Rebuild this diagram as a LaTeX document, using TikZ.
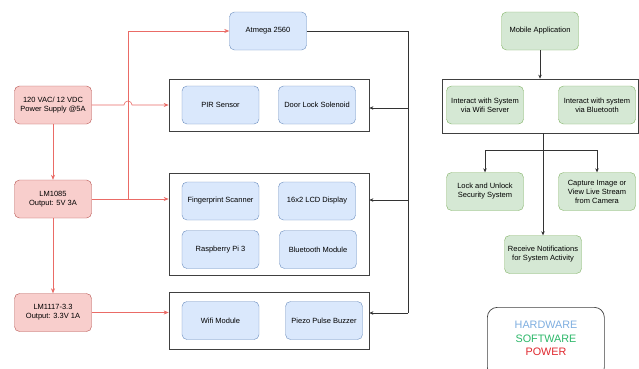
\documentclass[tikz,border=0pt]{standalone}
\usepackage{fontspec}
\setmainfont{Liberation Sans}
\usetikzlibrary{arrows.meta}

\definecolor{hwfill}{HTML}{DAE8FC}
\definecolor{hwline}{HTML}{6C8EBF}
\definecolor{swfill}{HTML}{D5E8D4}
\definecolor{swline}{HTML}{82B366}
\definecolor{pwfill}{HTML}{F8CECC}
\definecolor{pwline}{HTML}{B85450}
\definecolor{pwwire}{HTML}{EA6B66}
\definecolor{hwtext}{HTML}{7EAEE0}
\definecolor{swtext}{HTML}{2DB86A}
\definecolor{pwtext}{HTML}{E0282E}

\tikzset{
  block/.style={rounded corners=5pt, minimum width=77pt, minimum height=38pt,
    align=center, font=\fontsize{7.5}{9}\selectfont},
  hw/.style={block, draw=hwline, fill=hwfill},
  sw/.style={block, draw=swline, fill=swfill},
  pw/.style={block, draw=pwline, fill=pwfill},
  group/.style={draw=black!75, line width=0.7pt, inner sep=0pt},
  wire/.style={draw=pwwire, line width=0.6pt},
  pwr/.style={wire, -{Stealth[length=5pt,width=4pt]}},
  link/.style={draw=black!80, line width=0.6pt},
  ctl/.style={link, -{Stealth[length=4pt,width=3.5pt]}}
}

\begin{document}
\begin{tikzpicture}[x=1pt,y=-1pt]
	\clip (0,0) rectangle (639,368);
	\fill[white] (0,0) rectangle (639,368);

	% Group frames first
	\node[group, minimum width=200pt, minimum height=52pt] (g1) at (269,105) {};
	\node[group, minimum width=200pt, minimum height=102pt] (g2) at (269,224) {};
	\node[group, minimum width=200pt, minimum height=57pt] (g3) at (269,320.5) {};
	\node[group, minimum width=196pt, minimum height=54pt] (swg) at (540,106) {};

	% Power side
	\node[pw] (ps) at (53,105) {120 VAC/ 12 VDC\\Power Supply @5A};
	\node[pw] (lm1085) at (53,199) {LM1085\\Output: 5V 3A};
	\node[pw] (lm1117) at (53,312.5) {LM1117-3.3\\Output: 3.3V 1A};

	% Hardware blocks
	\node[hw] (atmega) at (268,31) {Atmega 2560};
	\node[hw] (pir) at (220.5,105) {PIR Sensor};
	\node[hw] (door) at (317,105) {Door Lock Solenoid};
	\node[hw] (finger) at (220.5,201) {Fingerprint Scanner};
	\node[hw] (lcd) at (317,201) {16x2 LCD Display};
	\node[hw] (rpi) at (220.5,249.5) {Raspberry Pi 3};
	\node[hw] (bt) at (318,249.5) {Bluetooth Module};
	\node[hw] (wifi) at (220.5,320.5) {Wifi Module};
	\node[hw] (piezo) at (324,320.5) {Piezo Pulse Buzzer};

	% Software blocks
	\node[sw] (app) at (540,31) {Mobile Application};
	\node[sw] (iwifi) at (485,105) {Interact with System\\via Wifi Server};
	\node[sw] (ibt) at (597,105) {Interact with system\\via Bluetooth};
	\node[sw] (lock) at (485,191.5) {Lock and Unlock\\Security System};
	\node[sw] (cam) at (597,191.5) {Capture Image or\\View Live Stream\\from Camera};
	\node[sw] (notif) at (543,254.5) {Receive Notifications\\for System Activity};

	% Power wiring
	\coordinate (hop) at (128,105);
	\coordinate (split) at (128,199);
	\draw[pwr] (ps) -- (lm1085);
	\draw[pwr] (lm1085) -- (lm1117);
	\draw[pwr] (ps.east) -- ([xshift=-4pt]hop) arc[start angle=180, end angle=0, radius=4pt] -- (g1.west);
	\draw[pwr] (lm1085.east) -- (lm1085.east -| g2.west);
	\draw[pwr] (split) |- (atmega.west);
	\draw[pwr] (lm1117.east) -- (lm1117.east -| g3.west);

	% Control bus from the Atmega
	\coordinate (b1) at (408,108);
	\coordinate (b2) at (408,200);
	\coordinate (b3) at (408,313);
	\draw[link] (atmega.east) -| (b3);
	\foreach \b/\g in {b1/g1, b2/g2, b3/g3}
		\draw[ctl] (\b) -- (\b -| \g.east);

	% App flow
	\coordinate (fork) at (543,150);
	\draw[ctl] (app.south) -- (app.south |- swg.north);
	\draw[ctl] (swg.south -| notif) -- (notif.north);
	\draw[ctl] (fork) -| (lock.north);
	\draw[ctl] (fork) -| (cam.north);

	% Legend
	\node[draw=black!75, line width=0.7pt, rounded corners=10pt,
		minimum width=117pt, minimum height=70pt, anchor=north west] (legend) at (487,307) {};
	\node[align=center, font=\fontsize{10.8}{13.5}\selectfont] (key) at (546,338.5)
		{\textcolor{hwtext}{HARDWARE}\\\textcolor{swtext}{SOFTWARE}\\\textcolor{pwtext}{POWER}};
\end{tikzpicture}
\end{document}
